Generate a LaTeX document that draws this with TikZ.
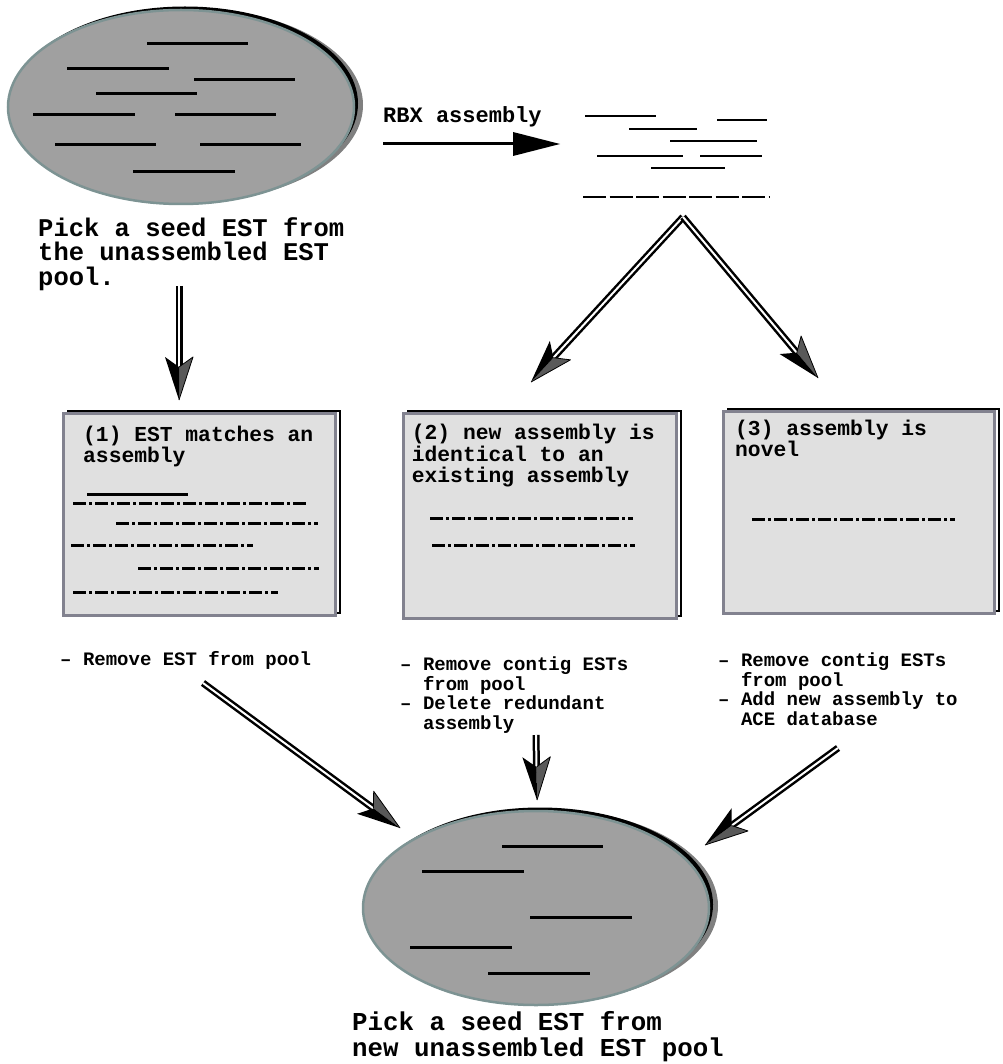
\documentclass[tikz,border=0pt]{standalone}
\usepackage{fontspec}
\newfontfamily\courb{Liberation Mono}
\usetikzlibrary{calc,shapes.geometric}

\definecolor{poolfill}{HTML}{A0A0A0}
\definecolor{poolrim}{HTML}{7D9393}
\definecolor{cardfill}{HTML}{E0E0E0}
\definecolor{cardrim}{HTML}{82828F}

% double-shafted arrow with a half black, half shaded head
\newcommand\dblarrow[2]{%
  \draw[shaft] (#1) -- ($(#2)!28pt!(#1)$);
  \coordinate (hb) at ($(#2)!43pt!(#1)$);
  \coordinate (hn) at ($(#2)!33pt!(#1)$);
  \coordinate (hl) at ($(hb)!14pt!90:(#2)$);
  \coordinate (hr) at ($(hb)!14pt!-90:(#2)$);
  \fill[black!65] (#2) -- (hl) -- (hn) -- cycle;
  \draw[line width=.8pt, line join=round] (hn) -- (hl) -- (#2);
  \fill (#2) -- (hr) -- (hn) -- cycle;
}

\begin{document}
\begin{tikzpicture}[x=1pt,y=-1pt,
  pool/.style={ellipse, inner sep=0pt, minimum width=346pt, minimum height=194pt,
    fill=poolfill, draw=poolrim, line width=2.5pt,
    preaction={fill=black!50, transform canvas={shift={(9pt,2pt)}}},
    preaction={fill=black, transform canvas={shift={(4pt,3.5pt)}}}},
  card/.style={rectangle, inner sep=0pt, fill=cardfill, draw=cardrim, line width=3pt,
    preaction={draw=black, line width=1.5pt, transform canvas={shift={(5pt,2pt)}}}},
  est/.style={line width=3pt},
  contig/.style={line width=3pt, dash pattern=on 13pt off 3pt on 3pt off 3pt},
  readline/.style={line width=2.6pt},
  shaft/.style={draw=black, double=white, line width=2.5pt, double distance=2pt},
  bigtxt/.style={anchor=base west, inner sep=0pt, align=left,
    font=\fontsize{25.5}{24.3}\selectfont\courb\bfseries},
  midtxt/.style={anchor=base west, inner sep=0pt, align=left,
    font=\fontsize{21.3}{21.3}\selectfont\courb\bfseries},
  smalltxt/.style={anchor=base west, inner sep=0pt, align=left,
    font=\fontsize{19}{19.5}\selectfont\courb\bfseries},
]
\useasboundingbox (0,0) rectangle (1002,1064);

% ---------- unassembled EST pool ----------
\node[pool] (seedpool) at (181,107) {};
\foreach \xa/\xb/\yy in {147/248/44, 67/169/69, 194/295/80, 96/197/94,
    33/135/115, 175/276/115, 55/156/145, 200/301/145, 133/235/172}
  \draw[est] (\xa,\yy) -- (\xb,\yy);
% multi-line labels are anchored on the baseline of their last line
\node[bigtxt] (seedtxt) at (38,285) {Pick a seed EST from\\the unassembled EST\\pool.};

% ---------- assembly step ----------
\node[midtxt, font=\fontsize{22}{22}\selectfont\courb\bfseries] (asmtxt) at (383,123) {RBX assembly};
\coordinate (asmfrom) at (383,144);
\coordinate (asmto) at (560,144);
\draw[line width=3pt] (asmfrom) -- ($(asmto)+(-44,0)$);
\fill (asmto) -- ++(-47,-12) -- ++(0,24) -- cycle;

\foreach \xa/\xb/\yy in {585/656/116, 717/767/120, 629/697/129, 670/757/141,
    597/683/156, 700/762/156, 651/725/168}
  \draw[readline] (\xa,\yy) -- (\xb,\yy);
\draw[line width=2.6pt, dash pattern=on 23pt off 3.5pt] (583,197) -- (770,197);

% ---------- branching arrows ----------
\coordinate (apex) at (683,217);
\coordinate (tipB) at (531,382);
\coordinate (tipC) at (818,378);
\dblarrow{apex}{tipB}
\dblarrow{apex}{tipC}
\coordinate (seeddown) at (179,286);
\coordinate (tipA) at (179,400);
\dblarrow{seeddown}{tipA}

% ---------- the three outcomes ----------
\node[card, minimum width=272pt, minimum height=202pt] (caseA) at (199,514) {};
\node[card, minimum width=273pt, minimum height=205pt] (caseB) at (539.5,515.5) {};
\node[card, minimum width=271pt, minimum height=202pt] (caseC) at (858.5,512) {};

\node[midtxt] (caseAtxt) at (83,462.5) {(1) EST matches an\\assembly};
\node[midtxt] (caseBtxt) at (411.7,482.5) {(2) new assembly is\\identical to an\\existing assembly};
\node[midtxt] (caseCtxt) at (735,456.5) {(3) assembly is\\novel};

\draw[est] (87,494) -- (188,494);
\foreach \xa/\xb/\yy in {73/307/503, 116/318/523, 71/253/545, 138/319/568, 73/278/592,
    430/633/518, 432/635/545, 752/955/519}
  \draw[contig] (\xa,\yy) -- (\xb,\yy);

\node[smalltxt] (actA) at (60,665.5) {– Remove EST from pool};
\node[smalltxt] (actB) at (400,729) {– Remove contig ESTs\\\phantom{– }from pool\\– Delete redundant\\\phantom{– }assembly};
\node[smalltxt] (actC) at (718,725) {– Remove contig ESTs\\\phantom{– }from pool\\– Add new assembly to\\\phantom{– }ACE database};

% ---------- back to the pool ----------
\coordinate (fromA) at (203,683);
\coordinate (intoA) at (400,828);
\coordinate (fromB) at (536,735);
\coordinate (intoB) at (537,800);
\coordinate (fromC) at (838,748);
\coordinate (intoC) at (705,845);
\dblarrow{fromA}{intoA}
\dblarrow{fromB}{intoB}
\dblarrow{fromC}{intoC}

\node[pool] (newpool) at (536,908) {};
\foreach \xa/\xb/\yy in {502/603/846, 422/524/871, 530/632/917, 410/512/947, 488/590/973}
  \draw[est] (\xa,\yy) -- (\xb,\yy);
\node[bigtxt, font=\fontsize{25.8}{25.5}\selectfont\courb\bfseries] (newtxt) at (352,1056)
  {Pick a seed EST from\\new unassembled EST pool};
\end{tikzpicture}
\end{document}
